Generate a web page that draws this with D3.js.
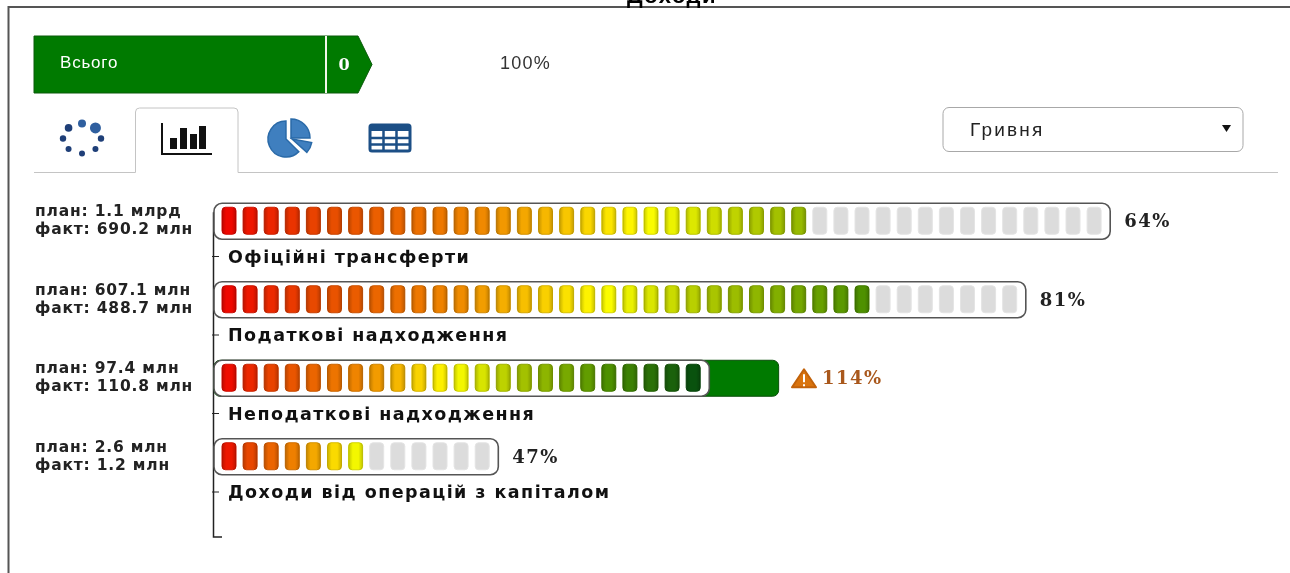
<!DOCTYPE html>
<html lang="uk">
<head>
    <meta charset="UTF-8">
    <title>Доходи</title>
    <script src="https://d3js.org/d3.v7.min.js"></script>
    <style>
        html, body { margin: 0; padding: 0; background: #fff; overflow: hidden; }
        svg { display: block; filter: blur(0.45px); }
        .cat { font-family: "DejaVu Sans", sans-serif; font-weight: bold; font-size: 17.5px; fill: #111; letter-spacing: 1.45px; }
        .side { font-family: "DejaVu Sans", sans-serif; font-weight: bold; font-size: 15.5px; fill: #222; letter-spacing: 0.8px; }
        .pct { font-family: "DejaVu Serif", serif; font-weight: bold; font-size: 18px; fill: #222; letter-spacing: 1.5px; }
    </style>
</head>
<body>
    <svg id="chart" width="1290" height="573"></svg>
    <script>
        // values
        const categories = ["Офіційні трансферти", "Податкові надходження", "Неподаткові надходження", "Доходи від операцій з капіталом"];
        const planLabels = ["план: 1.1 млрд", "план: 607.1 млн", "план: 97.4 млн", "план: 2.6 млн"];
        const factLabels = ["факт: 690.2 млн", "факт: 488.7 млн", "факт: 110.8 млн", "факт: 1.2 млн"];
        const percents = [64, 81, 114, 47];
        const totalCells = [42, 38, 23, 13];
        const filledCells = [28, 31, 23, 7];

        const svg = d3.select("#chart");

        // row positions
        const y = d3.scaleBand().domain(categories).range([217.25, 531.25]);
        // one unit is one cell of the gauge
        const x = d3.scaleLinear().domain([0, 42]).range([219, 1105.2]);
        const cellW = 14, barPad = 5, rowH = 36;

        const cellColor = d3.scaleLinear()
            .domain([0, 0.12, 0.3, 0.48, 0.62, 0.8, 1])
            .range(["#f00000", "#e84a00", "#f08a00", "#ffff00", "#a8c400", "#4f9200", "#004a10"]);

        // darkens the sides of a lit cell
        const shade = svg.append("defs").append("linearGradient").attr("id", "cellShade");
        shade.selectAll("stop").data([[0, 0.2], [0.3, 0], [0.7, 0], [1, 0.2]]).join("stop")
            .attr("offset", d => d[0]).attr("stop-color", "#000").attr("stop-opacity", d => d[1]);

        // outer frame
        svg.append("path")
            .attr("d", "M8.5,573V7H1290")
            .attr("fill", "none").attr("stroke", "#555").attr("stroke-width", 2);

        svg.append("text").attr("x", 672).attr("y", 3)
            .attr("text-anchor", "middle").attr("letter-spacing", 1.5)
            .style("font", "bold 22px 'Liberation Sans', sans-serif")
            .text("Доходи");

        // header block
        svg.append("path")
            .attr("d", "M34,36H358L372,64.5L358,93H34Z")
            .attr("fill", "#007a00").attr("stroke", "#0a5a0a");
        svg.append("line").attr("x1", 326).attr("x2", 326).attr("y1", 36).attr("y2", 93)
            .attr("stroke", "#f2f7ea").attr("stroke-width", 2);
        svg.append("text").attr("x", 60).attr("y", 68).attr("fill", "#fff").attr("letter-spacing", 0.8)
            .style("font", "17px 'Liberation Sans', sans-serif").text("Всього");
        svg.append("text").attr("x", 344).attr("y", 70).attr("fill", "#fff").attr("text-anchor", "middle")
            .style("font", "bold 16px 'DejaVu Serif', serif").text("0");
        svg.append("text").attr("x", 500).attr("y", 69).attr("fill", "#333").attr("letter-spacing", 1.2)
            .style("font", "18px 'Liberation Sans', sans-serif").text("100%");

        // tabs
        svg.append("path")
            .attr("d", "M34,172.5H135.5V112q0,-4 4,-4H234q4,0 4,4V172.5H1278")
            .attr("fill", "none").attr("stroke", "#c4c4c4");

        // loader icon
        const ring = svg.append("g").attr("transform", "translate(82,138.5)").attr("fill", "#1f3f78");
        d3.range(8).forEach(i => {
            const a = i * Math.PI / 4 - Math.PI / 2;
            ring.append("circle")
                .attr("cx", 19 * Math.cos(a)).attr("cy", 15 * Math.sin(a))
                .attr("fill", i < 2 ? "#2f5f9f" : null)
                .attr("r", [4, 5.5, 3.2, 3, 3, 3, 3.2, 3.8][i]);
        });

        // bars icon
        const barsIcon = svg.append("g").attr("transform", "translate(161,123)");
        barsIcon.append("path").attr("d", "M1,0V31H51").attr("fill", "none").attr("stroke", "#111").attr("stroke-width", 2);
        barsIcon.selectAll("rect").data([[9, 15], [19, 5], [29, 11], [38, 3]]).join("rect")
            .attr("x", d => d[0]).attr("y", d => d[1]).attr("width", 7).attr("height", d => 26 - d[1]).attr("fill", "#111");

        // pie icon
        const arc = d3.arc();
        const pieIcon = svg.append("g").attr("transform", "translate(286,139)")
            .attr("fill", "#3f7fbf").attr("stroke", "#2a6aa8").attr("stroke-width", 1.5);
        pieIcon.append("path").attr("d", arc({innerRadius: 0, outerRadius: 18, startAngle: 2.35, endAngle: 6.28}));
        pieIcon.append("path").attr("transform", "translate(5,-1)").attr("d", arc({innerRadius: 0, outerRadius: 19, startAngle: 0, endAngle: 1.57}));
        pieIcon.append("path").attr("transform", "translate(6,0)").attr("d", arc({innerRadius: 0, outerRadius: 20, startAngle: 1.75, endAngle: 2.3}));

        // table icon
        const tableIcon = svg.append("g").attr("transform", "translate(370,125)");
        tableIcon.append("rect").attr("width", 40).attr("height", 26).attr("rx", 2).attr("fill", "#fff").attr("stroke", "#1c4f86").attr("stroke-width", 3);
        tableIcon.append("rect").attr("width", 40).attr("height", 6).attr("fill", "#1c4f86");
        tableIcon.append("path").attr("d", "M13.5,0V26M26.5,0V26M0,13H40M0,19.5H40").attr("stroke", "#1c4f86").attr("stroke-width", 2.5);

        // select box
        svg.append("rect").attr("x", 943).attr("y", 107.5).attr("width", 300).attr("height", 44).attr("rx", 6)
            .attr("fill", "#fff").attr("stroke", "#a8a8a8");
        svg.append("text").attr("x", 970).attr("y", 136).attr("fill", "#222").attr("letter-spacing", 2.2)
            .style("font", "19px 'Liberation Sans', sans-serif").text("Гривня");
        svg.append("path").attr("d", "M1222,125H1231L1226.5,132Z").attr("fill", "#111");

        // axis: ticks and category names come from the band scale
        svg.append("path").attr("d", "M222,213H213.5V537H222")
            .attr("fill", "none").attr("stroke", "#222").attr("stroke-width", 1.5);

        const axis = svg.append("g").attr("transform", "translate(214,0)")
            .call(d3.axisRight(y).tickSize(5).tickPadding(9));
        axis.select(".domain").remove();
        axis.selectAll(".tick line").attr("x1", -2).attr("x2", 5).attr("stroke", "#222");
        axis.selectAll(".tick text").attr("class", "cat").attr("x", 14).attr("dy", "0.35em").style("font-family", null).style("font-size", null);

        // one row per category
        const rows = svg.selectAll(".row").data(categories).join("g").attr("class", "row")
            .attr("transform", d => `translate(0,${y(d) - 14})`);

        rows.each(function(cat, i) {
            const g = d3.select(this);
            const barEnd = x(totalCells[i]) + barPad;
            const over = percents[i] > 100;

            if (over) {
                const overEnd = 214 + (barEnd - 214) * percents[i] / 100;
                g.append("rect").attr("x", 214).attr("y", 0).attr("width", overEnd - 214).attr("height", rowH).attr("rx", 6)
                    .attr("fill", "#007a00").attr("stroke", "#0a4f0a");
            }

            g.append("rect").attr("class", "gauge").attr("x", 214).attr("y", 0).attr("width", barEnd - 214).attr("height", rowH).attr("rx", 8)
                .attr("fill", "#fff").attr("stroke", "#555").attr("stroke-width", 1.6);

            const cells = d3.range(totalCells[i]);
            g.selectAll(".cell").data(cells).join("rect").attr("class", "cell")
                .attr("x", k => x(k) + 3).attr("y", 4).attr("width", cellW).attr("height", 27).attr("rx", 3.5)
                .attr("fill", k => k < filledCells[i] ? cellColor((k + 0.5) / totalCells[i]) : "#dcdcdc")
                .attr("stroke", k => k < filledCells[i] ? d3.color(cellColor((k + 0.5) / totalCells[i])).darker(0.4) : "#e4e4e4");
            g.selectAll(".lit").data(cells.slice(0, filledCells[i])).join("rect").attr("class", "lit")
                .attr("x", k => x(k) + 3).attr("y", 4).attr("width", cellW).attr("height", 27).attr("rx", 3.5)
                .attr("fill", "url(#cellShade)");

            const labelX = over ? 822 : barEnd + 14;
            if (over) {
                g.append("path").attr("d", "M804,9L816,27H792Z").attr("fill", "#d9730d").attr("stroke", "#c2620a").attr("stroke-width", 2).attr("stroke-linejoin", "round");
                g.append("path").attr("d", "M804,14V22M804,24V26").attr("stroke", "#fff").attr("stroke-width", 2);
            }
            g.append("text").attr("class", "pct").attr("x", labelX).attr("y", 24)
                .style("fill", over ? "#a9581c" : null).text(percents[i] + "%");

            g.append("text").attr("class", "side").attr("x", 35).attr("y", 13).text(planLabels[i]);
            g.append("text").attr("class", "side").attr("x", 35).attr("y", 31).text(factLabels[i]);
        });
    </script>
</body>
</html>
